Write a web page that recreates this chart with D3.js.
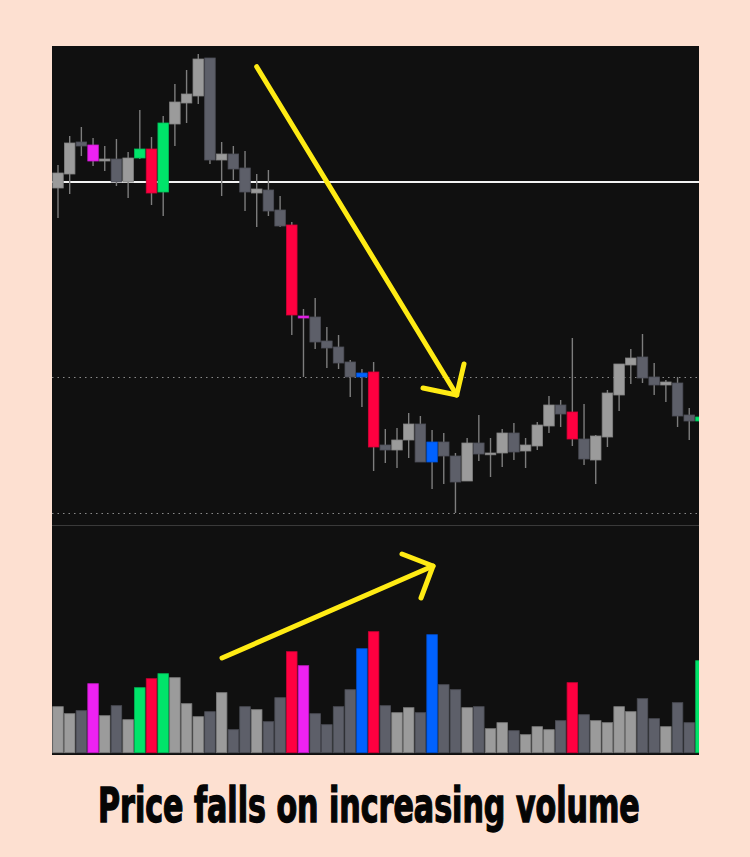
<!DOCTYPE html>
<html>
<head>
<meta charset="utf-8">
<script src="https://cdn.jsdelivr.net/npm/d3@7"></script>
<style>
  html, body { margin: 0; padding: 0; background: #fde0d1; }
  svg { display: block; }
</style>
</head>
<body>
<div id="chart"></div>
<script>
// candle data, one entry per bar (index 0 is cut off on the left edge)
const opens  = [133.5,133.7,135.1,138.3,138.0,136.4,136.6,134.3,136.7,137.6,133.3,140.1,142.2,142.9,146.7,136.5,137.1,135.7,133.2,133.5,131.5,130.0,120.9,120.8,118.4,117.8,116.3,114.8,115.3,108.0,107.5,108.5,110.1,106.3,108.3,106.9,104.4,108.2,107.1,107.2,109.2,107.4,107.9,109.9,112.0,111.3,108.6,106.5,108.8,113.0,116.0,116.8,114.8,114.0,114.2,111.0,110.4];
const highs  = [135.5,136.0,138.9,139.8,138.7,137.9,138.6,137.3,141.5,138.8,140.9,144.1,145.5,147.1,146.7,138.3,137.9,137.4,135.1,135.5,132.9,130.3,121.6,122.7,119.8,119.0,116.5,115.6,116.3,109.6,109.7,111.2,110.9,109.5,109.2,107.2,108.7,111.0,108.7,109.6,110.2,108.7,110.3,112.9,112.5,118.7,112.1,109.0,113.5,116.1,117.6,119.1,116.2,114.5,114.8,111.7,111.2];
const lows   = [132.5,130.7,133.1,136.9,135.9,135.4,133.9,132.7,136.6,132.0,130.9,137.9,140.2,142.1,136.1,132.9,134.5,131.4,129.8,130.9,129.8,119.0,114.8,117.6,115.7,115.6,112.8,111.8,105.4,106.2,105.7,106.7,106.3,103.6,104.1,101.2,104.4,106.4,104.8,105.8,106.5,105.7,107.5,109.2,109.8,107.9,106.0,104.1,107.8,111.4,114.1,114.2,113.0,112.3,109.8,108.5,110.0];
const closes = [134.5,135.2,138.2,137.9,136.4,136.6,134.3,136.7,137.6,133.2,140.2,142.3,143.1,146.6,136.5,137.1,135.6,133.3,133.6,131.4,129.9,121.0,120.7,118.3,117.7,116.2,114.8,115.2,107.8,107.5,108.5,110.1,106.3,108.3,106.9,104.3,108.2,107.1,107.2,109.2,107.3,108.0,110.0,112.0,111.1,108.6,106.6,108.9,113.2,116.1,116.7,114.7,114.0,114.3,110.9,110.4,110.8];
const volumes = [34,46,39,42,69,37,47,33,65,74,79,75,49,36,41,60,23,46,43,31,55,101,87,39,28,46,63,104,121,47,40,45,40,118,68,63,45,46,24,30,22,18,26,23,32,70,38,32,30,46,41,54,34,26,50,30,92];
// highlight flags from the indicator ("" = plain up/down)
const flags = ["","","","","magenta","","","","green","red","green","","","","","","","","","","","red","magenta","","","","","blue","red","","","","","blue","","","","","","","","","","","","red","","","","","","","","","","","green"];

const resistance = 134.3;   // solid white level
const supports = [114.8, 101.2]; // dotted levels

const W = 750, H = 857;
const chart = { left: 52, right: 699, top: 46, split: 525, bottom: 755 };

const colors = {
  up: "#9b9b9b", down: "#5d5f69",
  red: "#ff0040", green: "#00e46a", magenta: "#ee22f2", blue: "#0062ff"
};

const data = opens.map((o, i) => ({
  i, open: o, high: highs[i], low: lows[i], close: closes[i], vol: volumes[i],
  kind: flags[i] || (closes[i] >= o ? "up" : "down")
}));

const svg = d3.select("#chart").append("svg").attr("width", W).attr("height", H);

svg.append("rect").attr("width", W).attr("height", H).attr("fill", "#fde0d1");
svg.append("rect")
  .attr("x", chart.left).attr("y", chart.top)
  .attr("width", chart.right - chart.left).attr("height", chart.bottom - chart.top)
  .attr("fill", "#101010");

svg.append("clipPath").attr("id", "clip").append("rect")
  .attr("x", chart.left).attr("y", chart.top)
  .attr("width", chart.right - chart.left).attr("height", chart.bottom - chart.top);

const step = 11.69;
const x = d3.scaleBand()
  .domain(data.map(d => d.i))
  .range([46.3 - step / 2, 46.3 - step / 2 + step * data.length])
  .paddingInner(0.1).paddingOuter(0.05);

const y = d3.scaleLinear().domain([100, 147.9]).range([chart.split, chart.top]);
const yv = d3.scaleLinear().domain([0, 200]).range([752.7, 552.7]);

const g = svg.append("g").attr("clip-path", "url(#clip)");

// levels
g.append("line")
  .attr("x1", chart.left).attr("x2", chart.right)
  .attr("y1", y(resistance)).attr("y2", y(resistance))
  .attr("stroke", "#f2f2f2").attr("stroke-width", 2.2);
g.selectAll(".dot").data(supports).enter().append("line")
  .attr("x1", chart.left).attr("x2", chart.right)
  .attr("y1", d => Math.round(y(d)) + 0.5).attr("y2", d => Math.round(y(d)) + 0.5)
  .attr("stroke", "#8a8a8a").attr("stroke-width", 1).attr("stroke-dasharray", "1.5,4");

// pane separator
g.append("line")
  .attr("x1", chart.left).attr("x2", chart.right)
  .attr("y1", chart.split + 0.5).attr("y2", chart.split + 0.5)
  .attr("stroke", "#3a3a3a").attr("stroke-width", 1);

const cx = d => x(d.i) + x.bandwidth() / 2;

// wicks
g.selectAll(".wick").data(data).enter().append("line")
  .attr("x1", cx).attr("x2", cx)
  .attr("y1", d => y(d.high)).attr("y2", d => y(d.low))
  .attr("stroke", "#7d7d7d").attr("stroke-width", 1.4);

// bodies
g.selectAll(".body").data(data).enter().append("rect")
  .attr("x", d => x(d.i))
  .attr("width", x.bandwidth())
  .attr("y", d => y(Math.max(d.open, d.close)))
  .attr("height", d => Math.max(1.8, Math.abs(y(d.open) - y(d.close))))
  .attr("fill", d => colors[d.kind])
  .attr("stroke", d => d3.color(colors[d.kind]).darker(0.5))
  .attr("stroke-width", 0.8);

// volume
g.selectAll(".vol").data(data).enter().append("rect")
  .attr("x", d => x(d.i))
  .attr("width", x.bandwidth())
  .attr("y", d => yv(d.vol))
  .attr("height", d => yv(0) - yv(d.vol))
  .attr("fill", d => colors[d.kind])
  .attr("stroke", d => d3.color(colors[d.kind]).darker(0.6))
  .attr("stroke-width", 0.8);

// yellow arrows
const arrows = [
  { from: [256.7, 66.7], to: [456.7, 395], arms: [[423, 388], [464, 364]] },
  { from: [222, 658], to: [433, 566], arms: [[402, 554], [421, 598]] }
];
arrows.forEach(a => {
  const pg = svg.append("g").attr("fill", "none").attr("stroke", "#ffeb14")
    .attr("stroke-width", 5).attr("stroke-linecap", "round").attr("stroke-linejoin", "round");
  pg.append("line").attr("x1", a.from[0]).attr("y1", a.from[1]).attr("x2", a.to[0]).attr("y2", a.to[1]);
  pg.append("path").attr("d", d3.line()([a.arms[0], a.to, a.arms[1]]));
});

// caption: measure, then squeeze horizontally / stretch vertically for the condensed look
const cap = svg.append("text")
  .attr("font-family", "'Liberation Sans Narrow', 'DejaVu Sans Condensed', sans-serif")
  .attr("font-weight", "bold").attr("font-size", 41)
  .attr("fill", "#050505").attr("stroke", "#050505").attr("stroke-width", 1.2)
  .text("Price falls on increasing volume");
const natural = cap.node().getComputedTextLength() || 542;
cap.attr("transform", `translate(98,822) scale(${542 / natural},1.16)`);
</script>
</body>
</html>
